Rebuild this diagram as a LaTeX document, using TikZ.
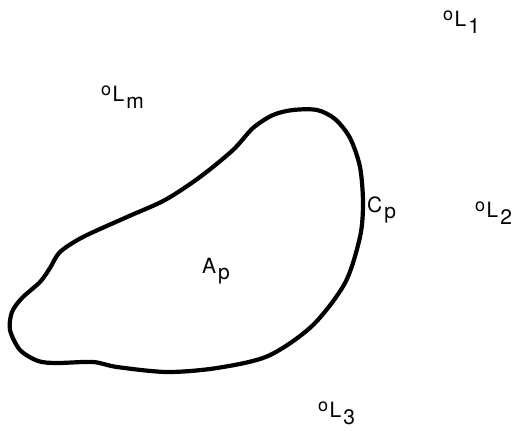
\documentclass[tikz,border=0pt]{standalone}
\usepackage{fontspec}
\setmainfont{TeX Gyre Heros}
\newcommand\lmark[2]{\raisebox{5.5pt}{\fontsize{18}{19}\selectfont o}\kern1.5pt #1\kern2pt\raisebox{-7pt}{#2}}
\newcommand\plab[2]{#1\kern2pt\raisebox{-6.5pt}{#2}}
\begin{document}
\begin{tikzpicture}[x=1pt,y=-1pt,
  lab/.style={anchor=base west,inner sep=0pt,font=\fontsize{21}{24}\selectfont},
  contour/.style={line width=4.2pt,line join=round}]
\useasboundingbox (0,0) rectangle (520,431);
\draw[contour] plot[smooth cycle,tension=0.5] coordinates {
 (293,110) (317,110) (335,119) (350,138) (360,167) (363,203) (360,237)
 (345,283) (312,326) (268,356) (217,368) (167,372) (117,367) (93,362)
 (57,363) (38,361) (20,350) (10,330) (12,312) (22,298) (40,282) (50,268)
 (60,252) (83,237) (127,217) (165,200) (200,177) (233,150) (253,128) (273,115)};
\node[lab] (L1) at (443,26) {\lmark{L}{1}};
\node[lab] (Lm) at (101,101) {\lmark{L}{m}};
\node[lab] (L2) at (475,217) {\lmark{L}{2}};
\node[lab] (L3) at (318,417) {\lmark{L}{3}};
\node[lab] (Cp) at (367,212) {\plab{C}{p}};
\node[lab] (Ap) at (202,273) {\plab{A}{p}};
\end{tikzpicture}
\end{document}
